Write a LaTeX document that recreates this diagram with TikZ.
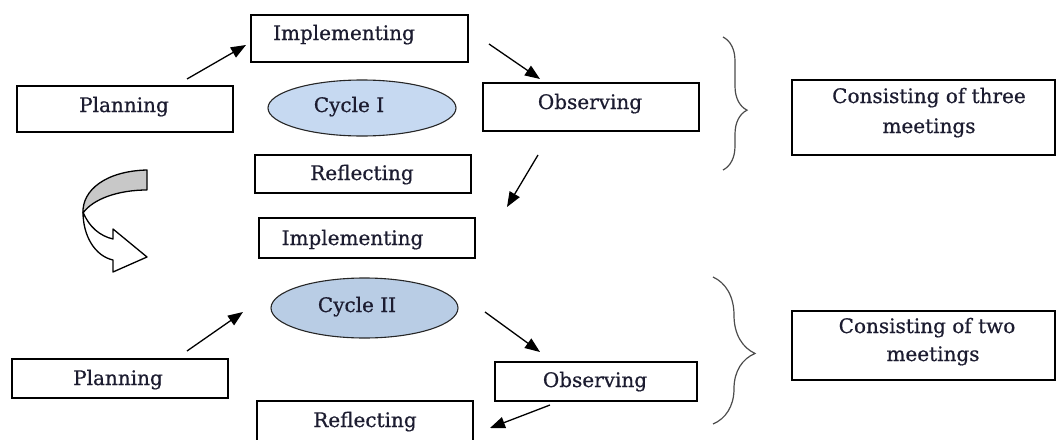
\documentclass[tikz,border=0pt]{standalone}
\usepackage{fontspec}
\setmainfont[FakeBold=0.7]{DejaVu Serif}
\usetikzlibrary{arrows.meta,decorations.pathreplacing,shapes.geometric}
\definecolor{cycA}{HTML}{C6D9F1}
\definecolor{cycB}{HTML}{B9CDE5}
\definecolor{ribbon}{HTML}{C8C8C8}
\definecolor{ink}{HTML}{1C1C30}
\begin{document}
\begin{tikzpicture}[x=1pt,y=-1pt,
  box/.style={draw=black,line width=1.4pt,rectangle,inner sep=0pt},
  lbl/.style={font=\fontsize{20}{24}\selectfont,text=ink,inner sep=0pt,anchor=base},
  cyc/.style={draw=black!85,line width=1.1pt,ellipse,inner sep=0pt},
  flow/.style={line width=1.3pt,-{Triangle[length=15pt,width=11.5pt]}},
  brc/.style={decorate,line width=1.2pt,draw=black!70}]
\useasboundingbox (0,0) rectangle (1057,439);

% ---- cycle I ----
\node[box,minimum width=217,minimum height=47] (impl1) at (359.5,38.5) {};
\node[lbl] (impl1t) at (344,40) {Implementing};
\node[box,minimum width=216,minimum height=46] (plan1) at (125,109) {};
\node[lbl] (plan1t) at (124,112) {Planning};
\node[cyc,fill=cycA,minimum width=188,minimum height=56] (cyc1) at (362,108) {};
\node[lbl] (cyc1t) at (349,112) {Cycle I};
\node[box,minimum width=216,minimum height=48] (obs1) at (591,107) {};
\node[lbl] (obs1t) at (590,109) {Observing};
\node[box,minimum width=216,minimum height=38] (refl1) at (363,174) {};
\node[lbl] (refl1t) at (362,180) {Reflecting};

% ---- transition ----
\node[box,minimum width=216,minimum height=40] (impl2) at (367,238) {};
\node[lbl] (impl2t) at (352.5,245) {Implementing};

% ---- cycle II ----
\node[cyc,fill=cycB,minimum width=187,minimum height=60] (cyc2) at (364.5,308) {};
\node[lbl] (cyc2t) at (357,312) {Cycle II};
\node[box,minimum width=216,minimum height=39] (plan2) at (120,378.5) {};
\node[lbl] (plan2t) at (118,385) {Planning};
\node[box,minimum width=202,minimum height=39] (obs2) at (596,381.5) {};
\node[lbl] (obs2t) at (595,387) {Observing};
\node[box,minimum width=216,minimum height=50] (refl2) at (365,426) {};
\node[lbl] (refl2t) at (365,427) {Reflecting};

% ---- meeting notes ----
\node[box,minimum width=263,minimum height=75] (cons1) at (923.5,117.5) {};
\node[lbl] (cons1a) at (929,103) {Consisting of three};
\node[lbl] (cons1b) at (929,133) {meetings};
\node[box,minimum width=263,minimum height=69] (cons2) at (923.5,345.5) {};
\node[lbl] (cons2a) at (927,333) {Consisting of two};
\node[lbl] (cons2b) at (933,361) {meetings};

% ---- arrow end points ----
\coordinate (a1s) at (187,79);  \coordinate (a1e) at (246,45);
\coordinate (a2s) at (489,44);  \coordinate (a2e) at (540,79);
\coordinate (a3s) at (538,155); \coordinate (a3e) at (507,207);
\coordinate (a4s) at (187,351); \coordinate (a4e) at (243,312);
\coordinate (a5s) at (485,312); \coordinate (a5e) at (540,352);
\coordinate (a6s) at (550,405); \coordinate (a6e) at (490,428);
\draw[flow] (a1s) -- (a1e);
\draw[flow] (a2s) -- (a2e);
\draw[flow] (a3s) -- (a3e);
\draw[flow] (a4s) -- (a4e);
\draw[flow] (a5s) -- (a5e);
\draw[flow] (a6s) -- (a6e);

% ---- braces ----
\coordinate (br1t) at (723,37);  \coordinate (br1b) at (723,170);
\coordinate (br2t) at (713,277); \coordinate (br2b) at (713,424);
\draw[brc,decoration={brace,amplitude=24pt,aspect=0.55}] (br1t) -- (br1b);
\draw[brc,decoration={brace,amplitude=42pt,aspect=0.52}] (br2t) -- (br2b);

% ---- twisted ribbon arrow ----
\draw[line width=1.3pt,fill=white,line join=round]
  (83,212) .. controls (83,236) and (95,256) .. (113,260)
  -- (113,272) -- (147,257) -- (113,229) -- (113,239)
  .. controls (100,236) and (89,227) .. (83,212) -- cycle;
\draw[line width=1.3pt,fill=ribbon,line join=round]
  (147,170) .. controls (106,171) and (82,190) .. (83,213)
  .. controls (93,199) and (118,190) .. (147,190) -- cycle;
\end{tikzpicture}
\end{document}
